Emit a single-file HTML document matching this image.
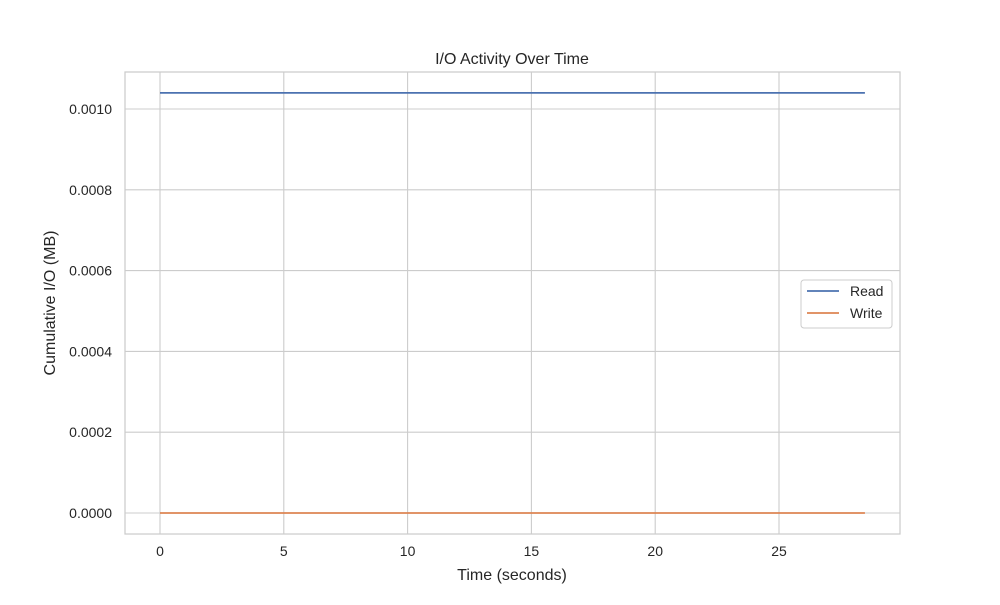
<!DOCTYPE html>
<html><head><meta charset="utf-8"><style>
body{margin:0;background:#fff;font-family:"Liberation Sans",sans-serif;}
text{font-family:"Liberation Sans",sans-serif;fill:#262626;}
</style></head><body>
<svg width="1000" height="600" xmlns="http://www.w3.org/2000/svg">
<g id="grid"></g>
<g id="series"></g>
<rect x="125" y="72" width="775" height="462" fill="none" stroke="#cccccc" stroke-width="1.25"/>
<g id="ticks"></g>
<text x="512" y="64" text-anchor="middle" font-size="16">I/O Activity Over Time</text>
<text x="512" y="580" text-anchor="middle" font-size="16">Time (seconds)</text>
<text transform="translate(55,303) rotate(-90)" text-anchor="middle" font-size="16">Cumulative I/O (MB)</text>
<g>
<rect x="801" y="280" width="91" height="48" rx="3" fill="#fff" fill-opacity="0.8" stroke="#cccccc"/>
<line x1="807" y1="291" x2="839" y2="291" stroke="#4c72b0" stroke-width="1.8"/>
<text x="850" y="296" font-size="14">Read</text>
<line x1="807" y1="313" x2="839" y2="313" stroke="#dd8452" stroke-width="1.8"/>
<text x="850" y="318" font-size="14">Write</text>
</g>
</svg>
<script>
const times=[0,5,10,15,20,25,28.47];
const readMB=[0.00104,0.00104,0.00104,0.00104,0.00104,0.00104,0.00104];
const writeMB=[0,0,0,0,0,0,0];
const xTicks=[0,5,10,15,20,25];
const yTicks=[0,0.0002,0.0004,0.0006,0.0008,0.0010];
const xs=t=>160+t*(779-160)/25;
const ys=v=>513-v*(513-109)/0.001;
const NS="http://www.w3.org/2000/svg";
const grid=document.getElementById('grid'),ticks=document.getElementById('ticks'),ser=document.getElementById('series');
function mk(tag,attrs,parent){const e=document.createElementNS(NS,tag);for(const k in attrs)e.setAttribute(k,attrs[k]);parent.appendChild(e);return e;}
xTicks.forEach(t=>{
 const l=mk('line',{x1:xs(t),x2:xs(t),y1:72,y2:534,stroke:'#cccccc','stroke-width':1.1},grid);
 
 
 const tx=mk('text',{x:xs(t),y:556,'text-anchor':'middle','font-size':14},ticks);
 tx.textContent=t;
 
 
});
yTicks.forEach(v=>{
 const l=mk('line',{x1:125,x2:900,y1:ys(v),y2:ys(v),stroke:'#cccccc','stroke-width':1.1},grid);
 
 
 const tx=mk('text',{x:112,y:ys(v)+5,'text-anchor':'end','font-size':14},ticks);
 tx.textContent=v.toFixed(4);
 
 
});
function line(vals,color,name){
 const p=mk('polyline',{points:times.map((t,i)=>xs(t)+','+ys(vals[i])).join(' '),fill:'none',stroke:color,'stroke-width':1.8},ser);
 
 
}
line(readMB,'#4c72b0','read-line');
line(writeMB,'#dd8452','write-line');
</script>
</body></html>
